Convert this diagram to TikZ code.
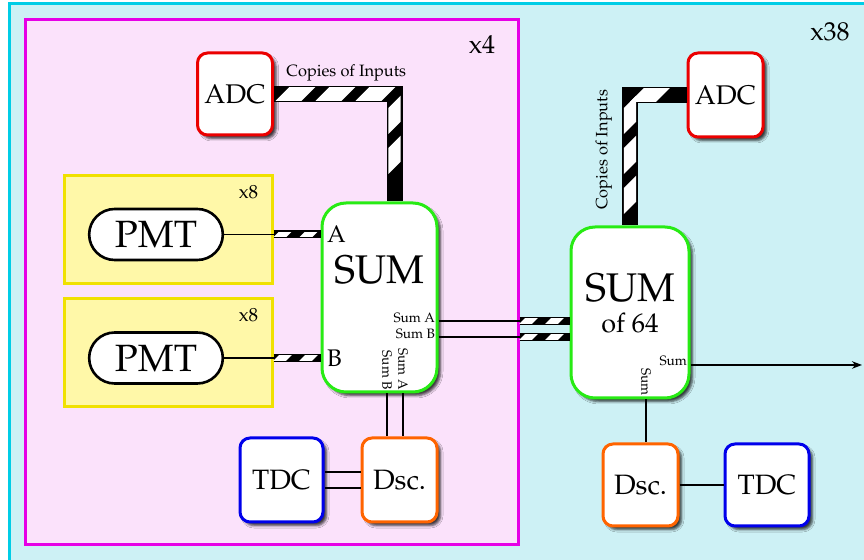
\documentclass[tikz,border=0pt]{standalone}
\usepackage[T1]{fontenc}
\usepackage{mathpazo}
\usetikzlibrary{shapes.misc, arrows.meta, positioning, shadows.blur, decorations.markings}
\definecolor{bgcyan}{RGB}{205,241,245}
\definecolor{edgecyan}{RGB}{0,205,230}
\definecolor{bgpink}{RGB}{251,226,251}
\definecolor{edgepink}{RGB}{230,0,230}
\definecolor{bgyellow}{RGB}{255,248,168}
\definecolor{edgeyellow}{RGB}{240,225,0}
\definecolor{adcred}{RGB}{235,0,0}
\definecolor{sumgreen}{RGB}{40,235,20}
\definecolor{dscorange}{RGB}{255,100,0}
\definecolor{tdcblue}{RGB}{0,0,235}
\tikzset{
    unit/.style={rectangle, rounded corners=5pt, draw, line width=1.5pt, fill=white, minimum width=37.5pt, minimum height=41pt, font=\fontsize{14}{16}\selectfont, blur shadow={shadow xshift=1.8pt, shadow yshift=-1.8pt, shadow blur radius=1.2pt, shadow opacity=75}},
    adc/.style={unit, draw=adcred, font=\fontsize{13.5}{16}\selectfont},
    tdc/.style={unit, draw=tdcblue, minimum width=41.5pt},
    dsc/.style={unit, draw=dscorange},
    summer/.style={unit, draw=sumgreen, rounded corners=12pt},
    pmt/.style={rounded rectangle, draw=black, line width=1.3pt, fill=white, minimum width=73.5pt, minimum height=25.5pt, font=\fontsize{19}{21}\selectfont},
    group/.style={rectangle, draw=edgeyellow, fill=bgyellow, line width=1.5pt, minimum width=104pt, minimum height=54pt},
    mult/.style={font=\fontsize{9.5}{11}\selectfont, anchor=north east},
    % striped cable, stripes kept at 45 degrees on the page
    bus/.style={line width=8pt, line join=miter, postaction={decorate, decoration={markings,
        mark=between positions #1 and -10pt step 20pt with {\begin{scope}
            \clip (-10pt,-3.1pt) rectangle (10pt,3.1pt);
            \pgftransformresetnontranslations
            \fill[white] (-16.5pt,-10pt) -- (-3.5pt,-10pt) -- (16.5pt,10pt) -- (3.5pt,10pt) -- cycle;
        \end{scope}}}}},
    bus/.default=10pt,
    thinbus/.style={line width=4pt, postaction={decorate, decoration={markings,
        mark=between positions #1 and -4.5pt step 13pt with {\begin{scope}
            \clip (-6pt,-1.2pt) rectangle (6pt,1.2pt);
            \pgftransformresetnontranslations
            \fill[white] (-5.2pt,-2pt) -- (1.2pt,-2pt) -- (5.2pt,2pt) -- (-1.2pt,2pt) -- cycle;
        \end{scope}}}}},
    thinbus/.default=4.5pt,
    tag/.style={font=\fontsize{6.8}{7.5}\selectfont, inner sep=1.5pt},
    arrow/.style={-{Stealth[length=5pt]}}
}
\begin{document}
\begin{tikzpicture}[x=0.5pt, y=-0.5pt, line width=0.65pt]
    \useasboundingbox (0,0) rectangle (864,560);
    % frames
    \draw[draw=edgecyan, fill=bgcyan, line width=1.5pt] (9,4) rectangle (900,600);
    \node (board) [rectangle, draw=edgepink, fill=bgpink, line width=1.5pt, minimum width=246.5pt, minimum height=262.5pt] at (271.5,282.5) {};
    \node (n4) [font=\fontsize{13}{15}\selectfont] at (482,45) {x4};
    \node (n38) [font=\fontsize{13}{15}\selectfont] at (830,32) {x38};

    % PMT groups
    \node (grpA) [group] at (168,230) {};
    \node (grpB) [group] at (168,353) {};
    \node (mulA) [mult] at ([xshift=-4pt, yshift=-2pt]grpA.north east) {x8};
    \node (mulB) [mult] at ([xshift=-4pt, yshift=-2pt]grpB.north east) {x8};
    \node (pmtA) [pmt] at (156,234.5) {PMT};
    \node (pmtB) [pmt] at (156,358) {PMT};

    % x4 board
    \node (sumA) [summer, minimum width=57.5pt, minimum height=94.5pt] at (379.5,297.5) {};
    \node (sumAtxt) [font=\fontsize{20}{22}\selectfont] at ([yshift=13.75pt]sumA.center) {SUM};
    \node (adcA) [adc] at (235,94) {ADC};
    \node (dscA) [dsc, minimum height=42pt] at (399.5,480) {Dsc.};
    \node (tdcA) [tdc, minimum height=42pt, left=18pt of dscA] {TDC};

    % x38 board
    \node (sumB) [summer, minimum width=59pt, minimum height=85.5pt] at (630,312.5) {};
    \node (sumBtxt) [font=\fontsize{20}{22}\selectfont] at ([yshift=12.25pt]sumB.center) {SUM};
    \node (sumBsub) [font=\fontsize{13.5}{15}\selectfont] at ([yshift=-5.25pt]sumB.center) {of 64};
    \node (adcB) [adc, minimum height=42pt] at (725.5,95) {ADC};
    \node (dscB) [dsc] at (640.5,485) {Dsc.};
    \node (tdcB) [tdc, minimum width=42pt, right=22pt of dscB] {TDC};

    % copies of inputs
    \draw [bus=10.75pt] (adcA.east) -| node[pos=0.3, above, outer sep=0pt, inner sep=6.5pt, font=\fontsize{8.2}{9}\selectfont] (cpA) {Copies of Inputs} ([xshift=7.5pt]sumA.north);
    \draw [bus=18.25pt] (adcB.west) -| node[pos=0.71, rotate=90, anchor=south, outer sep=0pt, inner sep=9pt, font=\fontsize{8.2}{9}\selectfont] (cpB) {Copies of Inputs} (sumB.north);

    % PMT inputs
    \draw (pmtA.east) -- (pmtA.east -| grpA.east);
    \draw (pmtB.east) -- (pmtB.east -| grpB.east);
    \draw [thinbus] (pmtA.east -| grpA.east) -- node[at end, right, outer sep=0pt, font=\fontsize{12}{14}\selectfont] (inA) {A} (pmtA.east -| sumA.west);
    \draw [thinbus] (pmtB.east -| grpB.east) -- node[at end, right, outer sep=0pt, font=\fontsize{12}{14}\selectfont] (inB) {B} (pmtB.east -| sumA.west);

    % sums out of the board
    \coordinate (oA) at ([yshift=-11.75pt]sumA.east);
    \coordinate (oB) at ([yshift=-19.75pt]sumA.east);
    \draw (oA) node[tag, anchor=east, yshift=1.5pt] (lsA) {Sum A} -- (oA -| board.east);
    \draw (oB) node[tag, anchor=east, yshift=1.5pt] (lsB) {Sum B} -- (oB -| board.east);
    \draw [thinbus] (oA -| board.east) -- (oA -| sumB.west);
    \draw [thinbus] (oB -| board.east) -- (oB -| sumB.west);

    % sums to discriminator
    \coordinate (dB) at ([xshift=3.75pt]sumA.south);
    \coordinate (dA) at ([xshift=11.75pt]sumA.south);
    \draw (dB) node[tag, rotate=-90, anchor=east] (lvB) {Sum B} -- (dB |- dscA.north);
    \draw (dA) node[tag, rotate=-90, anchor=east] (lvA) {Sum A} -- (dA |- dscA.north);
    \coordinate (tA) at ([yshift=4pt]dscA.west);
    \coordinate (tB) at ([yshift=-4pt]dscA.west);
    \draw (tA) -- (tA -| tdcA.east);
    \draw (tB) -- (tB -| tdcA.east);

    % final sum
    \coordinate (oS) at ([yshift=-26.25pt]sumB.east);
    \coordinate (out) at (862,365);
    \draw [arrow] (oS) node[tag, anchor=east, yshift=2pt] (lsS) {Sum} -- (out);
    \coordinate (dS) at ([xshift=8pt]sumB.south);
    \draw (dS) node[tag, rotate=-90, anchor=east] (lvS) {Sum} -- (dS |- dscB.north);
    \draw (dscB) -- (tdcB);
\end{tikzpicture}
\end{document}
